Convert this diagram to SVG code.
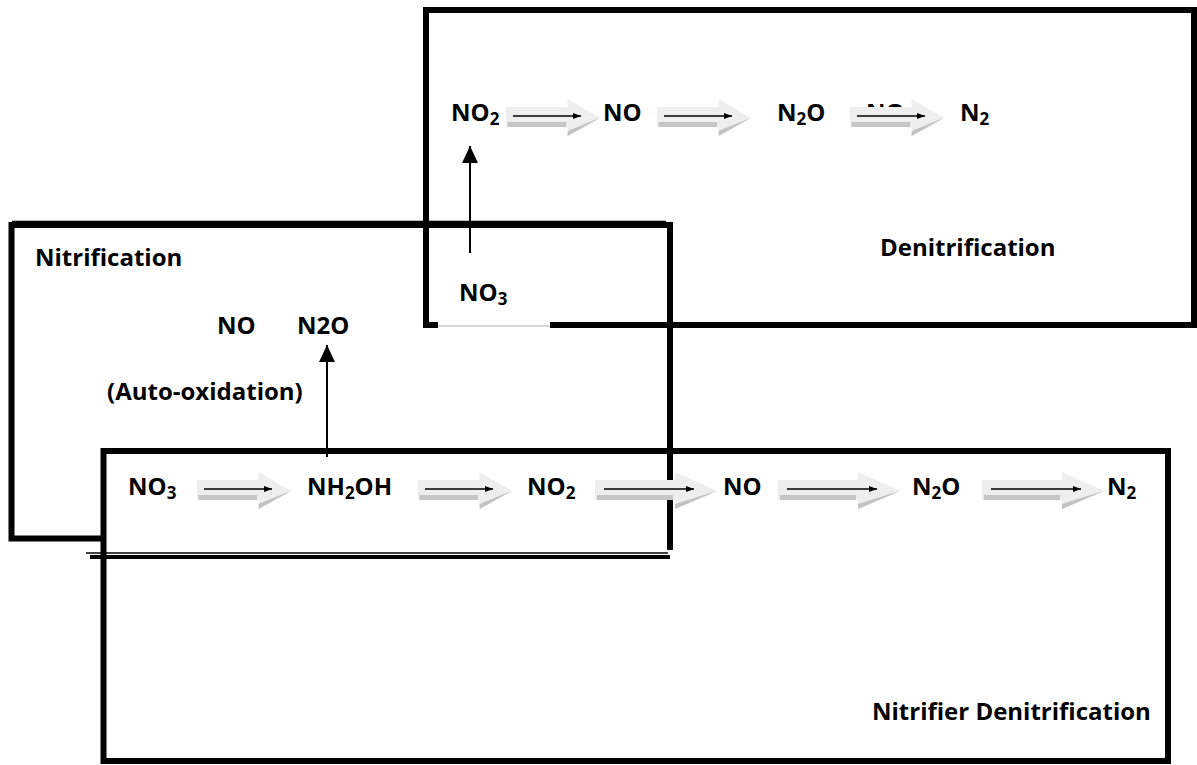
<svg xmlns="http://www.w3.org/2000/svg" xmlns:xlink="http://www.w3.org/1999/xlink" width="1197" height="765" viewBox="0 0 1197 765">
<style>
  .t { font-family: "Open Sans", "Liberation Sans", sans-serif; font-weight: 700; font-size: 24px; fill: #000; }
  .sub { font-size: 17px; }
  .box { fill: none; stroke: #000; stroke-width: 6; }
  .thin { fill: none; stroke: #000; stroke-width: 1.3; }
  .ln { stroke: #000; stroke-width: 1.5; fill: none; marker-end: url(#sm); }
  .vln { stroke: #000; stroke-width: 2; fill: none; marker-end: url(#big); }
</style>
<defs>
  <marker id="sm" markerUnits="userSpaceOnUse" viewBox="0 0 8 6" markerWidth="8" markerHeight="6" refX="8" refY="3" orient="auto">
    <path d="M0,0 L8,3 L0,6 z" fill="#000"/>
  </marker>
  <marker id="big" markerUnits="userSpaceOnUse" viewBox="0 0 17 16" markerWidth="17" markerHeight="16" refX="17" refY="8" orient="auto">
    <path d="M0,0 L17,8 L0,16 z" fill="#000"/>
  </marker>
  <g id="blk">
    <polygon points="0,-9 80,-9 80,-17 122,2 80,20 80,11 0,11" fill="#eeeeee"/>
    <rect x="2" y="6" width="76" height="5" fill="#c6c6c6"/>
    <polygon points="80,20 122,2 115,4 80,15" fill="#c2c2c2"/>
  </g>
</defs>

<!-- Denitrification box -->
<g id="denitrification">
  <path class="box" d="M438,325 H426 V10 H1194 V325 H550"/>
  <line x1="438" y1="326" x2="550" y2="326" stroke="#b0b0b0" stroke-width="1"/>
  <text class="t" x="880" y="256">Denitrification</text>
</g>

<!-- Nitrification box -->
<g id="nitrification">
  <path class="box" d="M103,538.5 H11.5 V225 H670 V550"/>
  <line class="thin" x1="12" y1="221.5" x2="666" y2="221.5" stroke="#555"/>
  <line x1="90" y1="557" x2="670" y2="557" stroke="#000" stroke-width="4"/>
  <line x1="86" y1="553" x2="668" y2="553" stroke="#000" stroke-width="1.3"/>
  <text class="t" x="35" y="266">Nitrification</text>
</g>

<!-- Nitrifier Denitrification box -->
<g id="nitrifier-denitrification">
  <rect class="box" x="103.5" y="451" width="1064.5" height="310"/>
  <text class="t" x="872" y="720">Nitrifier Denitrification</text>
</g>

<!-- top row nodes -->
<g id="n-top-no2"><text class="t" x="451" y="121">NO<tspan class="sub" dy="4">2</tspan></text></g>
<g id="n-top-no"><text class="t" x="603" y="121">NO</text></g>
<g id="n-top-n2o"><text class="t" x="777" y="121">N<tspan class="sub" dy="4">2</tspan><tspan dy="-4">O</tspan></text></g>
<g id="n-top-hidden-no"><text class="t" x="866" y="121">NO</text></g>
<g id="n-top-n2"><text class="t" x="960" y="121">N<tspan class="sub" dy="4">2</tspan></text></g>

<!-- middle nodes -->
<g id="n-mid-no3">
  <rect x="438" y="268" width="112" height="56" fill="#fff"/>
  <text class="t" x="459" y="301">NO<tspan class="sub" dy="4">3</tspan></text>
</g>
<g id="n-no"><text class="t" x="217" y="334">NO</text></g>
<g id="n-n2o-auto"><text class="t" x="297" y="334">N2O</text></g>
<g id="n-auto"><text class="t" x="107" y="400">(Auto-oxidation)</text></g>

<!-- bottom row nodes -->
<g id="n-b-no3"><text class="t" x="128" y="495">NO<tspan class="sub" dy="4">3</tspan></text></g>
<g id="n-b-nh2oh"><text class="t" x="307" y="495">NH<tspan class="sub" dy="4">2</tspan><tspan dy="-4">OH</tspan></text></g>
<g id="n-b-no2"><text class="t" x="527" y="495">NO<tspan class="sub" dy="4">2</tspan></text></g>
<g id="n-b-no"><text class="t" x="723" y="495">NO</text></g>
<g id="n-b-n2o"><text class="t" x="912" y="495">N<tspan class="sub" dy="4">2</tspan><tspan dy="-4">O</tspan></text></g>
<g id="n-b-n2"><text class="t" x="1107" y="495">N<tspan class="sub" dy="4">2</tspan></text></g>

<!-- connectors -->
<g id="connectors">
  <!-- top row -->
  <use xlink:href="#blk" transform="translate(506,116) scale(0.77,1)"/>
  <line class="ln" x1="513" y1="116" x2="581" y2="116"/>
  <use xlink:href="#blk" transform="translate(657,116) scale(0.77,1)"/>
  <line class="ln" x1="664" y1="116" x2="732" y2="116"/>
  <use xlink:href="#blk" transform="translate(850,116) scale(0.77,1)"/>
  <line class="ln" x1="857" y1="116" x2="925" y2="116"/>
  <!-- bottom row -->
  <use xlink:href="#blk" transform="translate(197,489) scale(0.77,1)"/>
  <line class="ln" x1="204" y1="489" x2="272" y2="489"/>
  <use xlink:href="#blk" transform="translate(418,489) scale(0.77,1)"/>
  <line class="ln" x1="425" y1="489" x2="493" y2="489"/>
  <use xlink:href="#blk" transform="translate(595,489)"/>
  <line class="ln" x1="604" y1="489" x2="694" y2="489"/>
  <use xlink:href="#blk" transform="translate(778,489)"/>
  <line class="ln" x1="787" y1="489" x2="877" y2="489"/>
  <use xlink:href="#blk" transform="translate(982,489)"/>
  <line class="ln" x1="991" y1="489" x2="1081" y2="489"/>
  <!-- vertical arrows -->
  <line class="vln" x1="470" y1="253" x2="470" y2="146"/>
  <line class="vln" x1="327" y1="457" x2="327" y2="345"/>
</g>
</svg>
